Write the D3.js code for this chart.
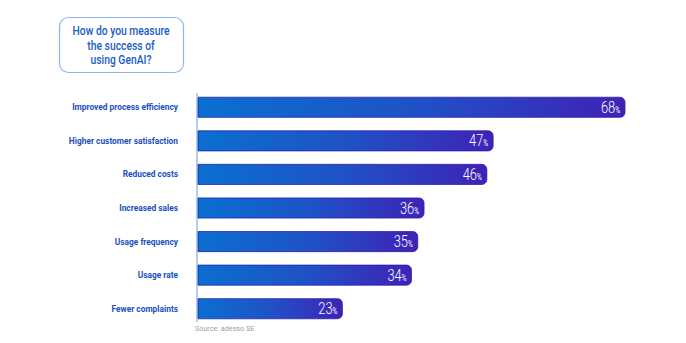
<!DOCTYPE html>
<html>
<head>
<meta charset="utf-8">
<script src="https://cdn.jsdelivr.net/npm/d3@7"></script>
<style>
  html, body { margin: 0; padding: 0; background: #fff; }
  #chart { width: 686px; height: 343px; }
  text { font-family: Roboto, "Liberation Sans", sans-serif; }
</style>
</head>
<body>
<div id="chart"></div>
<script>
(function() {
  var categories = [
    'Improved process efficiency',
    'Higher customer satisfaction',
    'Reduced costs',
    'Increased sales',
    'Usage frequency',
    'Usage rate',
    'Fewer complaints'
  ];
  var values = [68, 47, 46, 36, 35, 34, 23];
  var titleLines = ['How do you measure', 'the success of', 'using GenAI?'];
  var source = 'Source: adesso SE';

  var width = 686, height = 343;
  var left = 198;
  var narrow = 0.86; // squeeze Roboto into a condensed look

  var svg = d3.select('#chart')
            .append('svg')
            .attr('width', width)
            .attr('height', height);

  // each bar fades from blue to violet across its own length
  var defs = svg.append('defs');
  var grad = defs.append('linearGradient')
    .attr('id', 'barGrad')
    .attr('x1', 0).attr('x2', 1)
    .attr('y1', 0).attr('y2', 0);
  grad.append('stop').attr('offset', '0%').attr('stop-color', '#0a6fd0');
  grad.append('stop').attr('offset', '50%').attr('stop-color', '#1f52c6');
  grad.append('stop').attr('offset', '100%').attr('stop-color', '#3f22b6');

  var x = d3.scaleLinear().domain([0, 68]).range([left, 625]);
  var y = d3.scaleBand().domain(categories).range([90, 325]).paddingInner(0.4).paddingOuter(0.2);

  // title box
  svg.append('rect')
    .attr('x', 59.5).attr('y', 17.5)
    .attr('width', 124).attr('height', 55)
    .attr('rx', 9)
    .attr('fill', '#fff')
    .attr('stroke', '#8db6ee')
    .attr('stroke-width', 1.2);

  svg.append('g').selectAll('text')
    .data(titleLines)
    .enter().append('text')
    .attr('transform', function(d, i) {
      return 'translate(121,' + (35 + i * 14.5) + ') scale(' + narrow + ',1)';
    })
    .attr('text-anchor', 'middle')
    .attr('fill', '#1a5cc8')
    .attr('font-size', 12)
    .attr('font-weight', 500)
    .text(function(d) { return d; });

  // axis line
  svg.append('line')
    .attr('x1', left - 1).attr('x2', left - 1)
    .attr('y1', 93).attr('y2', 322)
    .attr('stroke', '#7fb0ec')
    .attr('stroke-width', 1.2);

  function barPath(x0, x1, yt, h, r) {
    return 'M' + x0 + ',' + yt +
      'H' + (x1 - r) +
      'A' + r + ',' + r + ' 0 0 1 ' + x1 + ',' + (yt + r) +
      'V' + (yt + h - r) +
      'A' + r + ',' + r + ' 0 0 1 ' + (x1 - r) + ',' + (yt + h) +
      'H' + x0 + 'Z';
  }

  var rows = svg.append('g').selectAll('g')
    .data(categories)
    .enter().append('g');

  rows.append('path')
    .attr('d', function(d, i) {
      return barPath(left, x(values[i]), y(d) + 0.5, y.bandwidth(), 5);
    })
    .attr('fill', 'url(#barGrad)')
    .attr('stroke', '#2a1ea6')
    .attr('stroke-opacity', 0.75)
    .attr('stroke-width', 1);

  rows.append('text')
    .attr('transform', function(d) {
      return 'translate(178,' + (y(d) + y.bandwidth() / 2 + 3.5) + ') scale(0.88,1)';
    })
    .attr('text-anchor', 'end')
    .attr('fill', '#1b4fbd')
    .attr('font-size', 9.5)
    .attr('font-weight', 700)
    .text(function(d) { return d; });

  var val = rows.append('text')
    .attr('transform', function(d, i) {
      return 'translate(' + (x(values[i]) - 5) + ',' + (y(d) + y.bandwidth() / 2 + 6) + ') scale(0.78,1)';
    })
    .attr('text-anchor', 'end')
    .attr('fill', '#fff');
  val.append('tspan')
    .attr('font-size', 16.5)
    .attr('font-weight', 300)
    .text(function(d, i) { return values[i]; });
  val.append('tspan')
    .attr('font-size', 8.5)
    .text('%');

  svg.append('text')
    .attr('transform', 'translate(195,331) scale(0.9,1)')
    .attr('fill', '#a0a0a0')
    .attr('font-size', 8)
    .text(source);
}());
</script>
</body>
</html>
